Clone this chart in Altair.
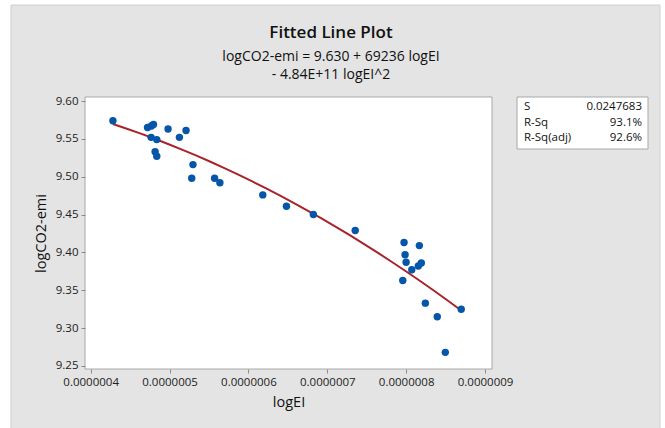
import altair as alt
import pandas as pd

# Data
log_ei = [4.282e-7, 4.721e-7, 4.769e-7, 4.796e-7, 4.766e-7, 4.838e-7, 4.817e-7, 4.838e-7,
          4.981e-7, 5.125e-7, 5.209e-7, 5.297e-7, 5.281e-7, 5.571e-7, 5.638e-7, 6.182e-7,
          6.482e-7, 6.823e-7, 7.354e-7, 7.973e-7, 7.986e-7, 7.999e-7, 7.957e-7, 8.071e-7,
          8.167e-7, 8.154e-7, 8.192e-7, 8.243e-7, 8.394e-7, 8.496e-7, 8.698e-7]
log_co2 = [9.574, 9.565, 9.567, 9.569, 9.552, 9.549, 9.533, 9.527,
           9.563, 9.552, 9.561, 9.516, 9.498, 9.498, 9.492, 9.476,
           9.461, 9.450, 9.429, 9.413, 9.397, 9.387, 9.363, 9.377,
           9.409, 9.382, 9.386, 9.333, 9.315, 9.268, 9.325]

x_ticks = [4e-7, 5e-7, 6e-7, 7e-7, 8e-7, 9e-7]
y_ticks = [9.25, 9.30, 9.35, 9.40, 9.45, 9.50, 9.55, 9.60]

stat_names = ["S", "R-Sq", "R-Sq(adj)"]
stat_values = ["0.0247683", "93.1%", "92.6%"]

title_lines = ["Fitted Line Plot", "logCO2-emi = 9.630 + 69236 logEI", "- 4.84E+11 logEI^2"]

FONT = "Open Sans"
W, H = 407, 272
PL, PT = 85, 97

df = pd.DataFrame({"logEI": log_ei, "logCO2": log_co2})
dummy = pd.DataFrame({"a": [0]})

xs = alt.Scale(domain=[3.928e-7, 9.088e-7], nice=False, zero=False)
ys = alt.Scale(domain=[9.246, 9.6053], nice=False, zero=False)

layers = []
# gray panel
layers.append(alt.Chart(dummy).mark_rect(fill="#e4e4e4", stroke="#cfcfcf", strokeWidth=1).encode(
    x=alt.value(11 - PL), x2=alt.value(660 - PL),
    y=alt.value(5 - PT), y2=alt.value(440 - PT)))
# white plot area with frame
layers.append(alt.Chart(dummy).mark_rect(fill="white", stroke="#a8a8a8", strokeWidth=1).encode(
    x=alt.value(0), x2=alt.value(W), y=alt.value(0), y2=alt.value(H)))
# stats box
layers.append(alt.Chart(dummy).mark_rect(fill="white", stroke="#a8a8a8", strokeWidth=1).encode(
    x=alt.value(517 - PL), x2=alt.value(648 - PL), y=alt.value(97 - PT), y2=alt.value(149 - PT)))

stat_rows_y = [107, 123, 138]
for name, val, yy in zip(stat_names, stat_values, stat_rows_y):
    layers.append(alt.Chart(dummy).mark_text(align="left", baseline="middle", font=FONT,
                                             fontSize=11.5, color="#111111").encode(
        x=alt.value(524 - PL), y=alt.value(yy - PT), text=alt.value(name)))
    layers.append(alt.Chart(dummy).mark_text(align="right", baseline="middle", font=FONT,
                                             fontSize=11.5, color="#111111").encode(
        x=alt.value(642 - PL), y=alt.value(yy - PT), text=alt.value(val)))

title_rows_y = [33, 57, 75]
for i, (t, yy) in enumerate(zip(title_lines, title_rows_y)):
    kw = dict(fontSize=17, fontWeight=600) if i == 0 else dict(fontSize=14)
    layers.append(alt.Chart(dummy).mark_text(align="center", baseline="middle", font=FONT,
                                             color="#111111", **kw).encode(
        x=alt.value(331 - PL), y=alt.value(yy - PT), text=alt.value(t)))

base = alt.Chart(df)
axis_common = dict(grid=False, domain=False, tickSize=4, tickColor="#8a8a8a", labelPadding=3,
                   labelFont=FONT, labelFontSize=11.5, labelColor="#222222",
                   titleFont=FONT, titleFontSize=14.5, titleFontWeight="normal",
                   titleColor="#111111", zindex=2)
xenc = alt.X("logEI:Q", scale=xs, title="logEI",
             axis=alt.Axis(values=x_ticks, format=".7f", titlePadding=8, **axis_common))
yenc = alt.Y("logCO2:Q", scale=ys, title="logCO2-emi",
             axis=alt.Axis(values=y_ticks, format=".2f", titlePadding=7, **axis_common))

fit = base.transform_regression("logEI", "logCO2", method="poly", order=2).mark_line(
    color="#a8232a", strokeWidth=2).encode(x=xenc, y=yenc)
points = base.mark_circle(size=55, color="#0556a8", opacity=1).encode(x=xenc, y=yenc)
layers += [fit, points]

chart = alt.layer(*layers).properties(
    width=W, height=H,
    autosize=alt.AutoSizeParams(type="none"),
    padding={"left": PL, "top": PT, "right": 665 - PL - W, "bottom": 428 - PT - H},
    background="white",
).configure_view(stroke=None)

chart.save("out.html", embed_options={"renderer": "svg", "actions": False})
